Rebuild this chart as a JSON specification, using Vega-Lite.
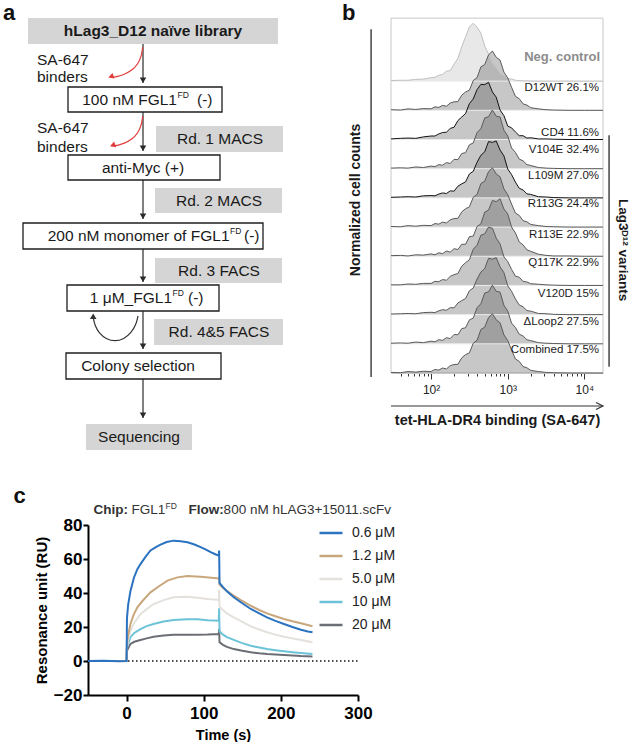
{
  "$schema": "https://vega.github.io/schema/vega-lite/v6.json",
  "padding": 0,
  "background": "white",
  "config": {"view": {"stroke": null}, "font": "Liberation Sans"},
  "spacing": 29,
  "resolve": {"scale": {"stroke": "independent", "fill": "independent", "color": "independent"}, "legend": {"color": "independent", "stroke": "independent", "fill": "independent"}},
  "datasets": {
    "boxes": [
      {"k":"g","x":28,"x2":278,"y":18,"y2":44},
      {"k":"w","x":68,"x2":222,"y":87,"y2":112},
      {"k":"g","x":156,"x2":283,"y":126,"y2":152},
      {"k":"w","x":68,"x2":220,"y":155,"y2":180},
      {"k":"g","x":155,"x2":282,"y":188,"y2":213},
      {"k":"w","x":23,"x2":263,"y":223,"y2":249},
      {"k":"g","x":155,"x2":282,"y":258,"y2":283},
      {"k":"w","x":67,"x2":219,"y":285,"y2":311},
      {"k":"g","x":154,"x2":283,"y":319,"y2":345},
      {"k":"w","x":66,"x2":221,"y":353,"y2":379},
      {"k":"g","x":86,"x2":192,"y":424,"y2":450}
    ],
    "varrows": [
      {"x":143,"y":44,"y2":83},{"x":143,"y":112,"y2":151},{"x":143,"y":180,"y2":219},
      {"x":143,"y":249,"y2":282},{"x":143,"y":311,"y2":349},{"x":143,"y":379,"y2":418}
    ],
    "curves": [
      {"id":"r1","o":0,"x":142.7,"y":47},{"id":"r1","o":1,"x":141.5,"y":56},{"id":"r1","o":2,"x":138,"y":64},{"id":"r1","o":3,"x":132,"y":70.5},{"id":"r1","o":4,"x":124,"y":74.5},{"id":"r1","o":5,"x":117,"y":76.6},{"id":"r1","o":6,"x":113,"y":77.2},
      {"id":"r2","o":0,"x":142.7,"y":116},{"id":"r2","o":1,"x":141.5,"y":125},{"id":"r2","o":2,"x":138,"y":133},{"id":"r2","o":3,"x":132,"y":139.5},{"id":"r2","o":4,"x":124,"y":143.5},{"id":"r2","o":5,"x":118,"y":145.3},{"id":"r2","o":6,"x":115,"y":145.7},
      {"id":"loop","o":0,"x":138,"y":316},{"id":"loop","o":1,"x":136,"y":325},{"id":"loop","o":2,"x":131,"y":333},{"id":"loop","o":3,"x":124,"y":339},{"id":"loop","o":4,"x":115,"y":341.5},{"id":"loop","o":5,"x":106,"y":339},{"id":"loop","o":6,"x":99,"y":333},{"id":"loop","o":7,"x":95,"y":326},{"id":"loop","o":8,"x":93.3,"y":318}
    ],
    "rheads": [{"x":108.3,"y":77.6},{"x":110,"y":146.2}],
    "atc": [
      {"t":"Rd. 1 MACS","x":220,"y":139},
      {"t":"anti-Myc (+)","x":143,"y":167.5},
      {"t":"Rd. 2 MACS","x":219,"y":200.5},
      {"t":"Rd. 3 FACS","x":219,"y":270.5},
      {"t":"Rd. 4&5 FACS","x":219,"y":332},
      {"t":"Colony selection","x":138,"y":366},
      {"t":"Sequencing","x":139,"y":437}
    ],
    "atl": [
      {"t":"SA-647","x":37,"y":60},{"t":"binders","x":37,"y":77},
      {"t":"SA-647","x":37,"y":128},{"t":"binders","x":37,"y":147},
      {"t":"(-)","x":197,"y":99.5},{"t":"(-)","x":244,"y":236},{"t":"(-)","x":188,"y":298}
    ],
    "atr": [
      {"t":"100 nM FGL1","x":177,"y":99.5},
      {"t":"200 nM monomer of FGL1","x":229.5,"y":236},
      {"t":"1 μM_FGL1","x":172,"y":298}
    ],
    "asup": [
      {"t":"FD","x":177.5,"y":94.5},{"t":"FD","x":230,"y":231},{"t":"FD","x":172.5,"y":293}
    ],
    "hist": [
      {"s":"Neg","b":10,"x":30,"y":10.02},{"s":"Neg","b":10,"x":39.8,"y":10.03},{"s":"Neg","b":10,"x":50.1,"y":10.03},{"s":"Neg","b":10,"x":63.1,"y":10.06},{"s":"Neg","b":10,"x":79.4,"y":10.07},{"s":"Neg","b":10,"x":100,"y":10.12},{"s":"Neg","b":10,"x":112.2,"y":10.13},{"s":"Neg","b":10,"x":125.9,"y":10.2},{"s":"Neg","b":10,"x":141.3,"y":10.23},{"s":"Neg","b":10,"x":158.5,"y":10.34},{"s":"Neg","b":10,"x":177.8,"y":10.36},{"s":"Neg","b":10,"x":199.5,"y":10.58},{"s":"Neg","b":10,"x":223.9,"y":10.78},{"s":"Neg","b":10,"x":251.2,"y":11.18},{"s":"Neg","b":10,"x":281.8,"y":11.52},{"s":"Neg","b":10,"x":316.2,"y":11.86},{"s":"Neg","b":10,"x":354.8,"y":11.98},{"s":"Neg","b":10,"x":398.1,"y":11.85},{"s":"Neg","b":10,"x":446.7,"y":11.64},{"s":"Neg","b":10,"x":501.2,"y":11.2},{"s":"Neg","b":10,"x":562.3,"y":10.92},{"s":"Neg","b":10,"x":631,"y":10.6},{"s":"Neg","b":10,"x":707.9,"y":10.46},{"s":"Neg","b":10,"x":794.3,"y":10.26},{"s":"Neg","b":10,"x":891.3,"y":10.19},{"s":"Neg","b":10,"x":1000,"y":10.09},{"s":"Neg","b":10,"x":1122,"y":10.07},{"s":"Neg","b":10,"x":1259,"y":10.03},{"s":"Neg","b":10,"x":1413,"y":10.02},{"s":"Neg","b":10,"x":1585,"y":10.01},{"s":"Neg","b":10,"x":1778,"y":10.01},{"s":"Neg","b":10,"x":1995,"y":10.005},{"s":"Neg","b":10,"x":2512,"y":10},{"s":"Neg","b":10,"x":3162,"y":10},{"s":"Neg","b":10,"x":3981,"y":10},{"s":"Neg","b":10,"x":6310,"y":10},{"s":"Neg","b":10,"x":10000,"y":10},{"s":"Neg","b":10,"x":17500,"y":10},

      {"s":"D12WT","b":9,"x":30,"y":9.02},{"s":"D12WT","b":9,"x":39.8,"y":9.01},{"s":"D12WT","b":9,"x":50.1,"y":9.05},{"s":"D12WT","b":9,"x":63.1,"y":9.03},{"s":"D12WT","b":9,"x":79.4,"y":9.06},{"s":"D12WT","b":9,"x":100,"y":9.05},{"s":"D12WT","b":9,"x":112.2,"y":9.12},{"s":"D12WT","b":9,"x":125.9,"y":9.1},{"s":"D12WT","b":9,"x":141.3,"y":9.17},{"s":"D12WT","b":9,"x":158.5,"y":9.14},{"s":"D12WT","b":9,"x":177.8,"y":9.25},{"s":"D12WT","b":9,"x":199.5,"y":9.29},{"s":"D12WT","b":9,"x":223.9,"y":9.3},{"s":"D12WT","b":9,"x":251.2,"y":9.52},{"s":"D12WT","b":9,"x":281.8,"y":9.63},{"s":"D12WT","b":9,"x":316.2,"y":9.69},{"s":"D12WT","b":9,"x":354.8,"y":10.02},{"s":"D12WT","b":9,"x":398.1,"y":10.12},{"s":"D12WT","b":9,"x":446.7,"y":10.49},{"s":"D12WT","b":9,"x":501.2,"y":10.57},{"s":"D12WT","b":9,"x":562.3,"y":10.9},{"s":"D12WT","b":9,"x":631,"y":11.03},{"s":"D12WT","b":9,"x":707.9,"y":10.82},{"s":"D12WT","b":9,"x":794.3,"y":10.72},{"s":"D12WT","b":9,"x":891.3,"y":10.31},{"s":"D12WT","b":9,"x":1000,"y":10.11},{"s":"D12WT","b":9,"x":1122,"y":9.79},{"s":"D12WT","b":9,"x":1259,"y":9.48},{"s":"D12WT","b":9,"x":1413,"y":9.4},{"s":"D12WT","b":9,"x":1585,"y":9.22},{"s":"D12WT","b":9,"x":1778,"y":9.18},{"s":"D12WT","b":9,"x":1995,"y":9.09},{"s":"D12WT","b":9,"x":2512,"y":9.05},{"s":"D12WT","b":9,"x":3162,"y":9.02},{"s":"D12WT","b":9,"x":3981,"y":9.01},{"s":"D12WT","b":9,"x":6310,"y":9},{"s":"D12WT","b":9,"x":10000,"y":9},{"s":"D12WT","b":9,"x":17500,"y":9},

      {"s":"CD4","b":8,"x":30,"y":8.02},{"s":"CD4","b":8,"x":39.8,"y":8.04},{"s":"CD4","b":8,"x":50.1,"y":8.05},{"s":"CD4","b":8,"x":63.1,"y":8.04},{"s":"CD4","b":8,"x":79.4,"y":8.09},{"s":"CD4","b":8,"x":100,"y":8.12},{"s":"CD4","b":8,"x":112.2,"y":8.12},{"s":"CD4","b":8,"x":125.9,"y":8.19},{"s":"CD4","b":8,"x":141.3,"y":8.24},{"s":"CD4","b":8,"x":158.5,"y":8.25},{"s":"CD4","b":8,"x":177.8,"y":8.38},{"s":"CD4","b":8,"x":199.5,"y":8.42},{"s":"CD4","b":8,"x":223.9,"y":8.65},{"s":"CD4","b":8,"x":251.2,"y":8.77},{"s":"CD4","b":8,"x":281.8,"y":8.89},{"s":"CD4","b":8,"x":316.2,"y":9.23},{"s":"CD4","b":8,"x":354.8,"y":9.39},{"s":"CD4","b":8,"x":398.1,"y":9.71},{"s":"CD4","b":8,"x":446.7,"y":9.89},{"s":"CD4","b":8,"x":501.2,"y":9.88},{"s":"CD4","b":8,"x":562.3,"y":9.96},{"s":"CD4","b":8,"x":631,"y":9.63},{"s":"CD4","b":8,"x":707.9,"y":9.45},{"s":"CD4","b":8,"x":794.3,"y":9.01},{"s":"CD4","b":8,"x":891.3,"y":8.82},{"s":"CD4","b":8,"x":1000,"y":8.46},{"s":"CD4","b":8,"x":1122,"y":8.4},{"s":"CD4","b":8,"x":1259,"y":8.26},{"s":"CD4","b":8,"x":1413,"y":8.13},{"s":"CD4","b":8,"x":1585,"y":8.13},{"s":"CD4","b":8,"x":1778,"y":8.05},{"s":"CD4","b":8,"x":1995,"y":8.06},{"s":"CD4","b":8,"x":2512,"y":8.02},{"s":"CD4","b":8,"x":3162,"y":8.02},{"s":"CD4","b":8,"x":3981,"y":8.01},{"s":"CD4","b":8,"x":6310,"y":8},{"s":"CD4","b":8,"x":10000,"y":8},{"s":"CD4","b":8,"x":17500,"y":8},

      {"s":"V104E","b":7,"x":30,"y":7.02},{"s":"V104E","b":7,"x":39.8,"y":7.03},{"s":"V104E","b":7,"x":50.1,"y":7.02},{"s":"V104E","b":7,"x":63.1,"y":7.06},{"s":"V104E","b":7,"x":79.4,"y":7.04},{"s":"V104E","b":7,"x":100,"y":7.09},{"s":"V104E","b":7,"x":112.2,"y":7.07},{"s":"V104E","b":7,"x":125.9,"y":7.14},{"s":"V104E","b":7,"x":141.3,"y":7.12},{"s":"V104E","b":7,"x":158.5,"y":7.21},{"s":"V104E","b":7,"x":177.8,"y":7.18},{"s":"V104E","b":7,"x":199.5,"y":7.32},{"s":"V104E","b":7,"x":223.9,"y":7.31},{"s":"V104E","b":7,"x":251.2,"y":7.52},{"s":"V104E","b":7,"x":281.8,"y":7.55},{"s":"V104E","b":7,"x":316.2,"y":7.82},{"s":"V104E","b":7,"x":354.8,"y":7.88},{"s":"V104E","b":7,"x":398.1,"y":8.24},{"s":"V104E","b":7,"x":446.7,"y":8.37},{"s":"V104E","b":7,"x":501.2,"y":8.74},{"s":"V104E","b":7,"x":562.3,"y":8.78},{"s":"V104E","b":7,"x":631,"y":9.01},{"s":"V104E","b":7,"x":707.9,"y":8.8},{"s":"V104E","b":7,"x":794.3,"y":8.77},{"s":"V104E","b":7,"x":891.3,"y":8.32},{"s":"V104E","b":7,"x":1000,"y":8.12},{"s":"V104E","b":7,"x":1122,"y":7.71},{"s":"V104E","b":7,"x":1259,"y":7.56},{"s":"V104E","b":7,"x":1413,"y":7.33},{"s":"V104E","b":7,"x":1585,"y":7.27},{"s":"V104E","b":7,"x":1778,"y":7.14},{"s":"V104E","b":7,"x":1995,"y":7.11},{"s":"V104E","b":7,"x":2512,"y":7.04},{"s":"V104E","b":7,"x":3162,"y":7.02},{"s":"V104E","b":7,"x":3981,"y":7.01},{"s":"V104E","b":7,"x":6310,"y":7},{"s":"V104E","b":7,"x":10000,"y":7},{"s":"V104E","b":7,"x":17500,"y":7},

      {"s":"L109M","b":6,"x":30,"y":6.02},{"s":"L109M","b":6,"x":39.8,"y":6.03},{"s":"L109M","b":6,"x":50.1,"y":6.04},{"s":"L109M","b":6,"x":63.1,"y":6.03},{"s":"L109M","b":6,"x":79.4,"y":6.07},{"s":"L109M","b":6,"x":100,"y":6.08},{"s":"L109M","b":6,"x":112.2,"y":6.07},{"s":"L109M","b":6,"x":125.9,"y":6.13},{"s":"L109M","b":6,"x":141.3,"y":6.17},{"s":"L109M","b":6,"x":158.5,"y":6.15},{"s":"L109M","b":6,"x":177.8,"y":6.24},{"s":"L109M","b":6,"x":199.5,"y":6.23},{"s":"L109M","b":6,"x":223.9,"y":6.4},{"s":"L109M","b":6,"x":251.2,"y":6.48},{"s":"L109M","b":6,"x":281.8,"y":6.55},{"s":"L109M","b":6,"x":316.2,"y":6.82},{"s":"L109M","b":6,"x":354.8,"y":6.91},{"s":"L109M","b":6,"x":398.1,"y":7.22},{"s":"L109M","b":6,"x":446.7,"y":7.46},{"s":"L109M","b":6,"x":501.2,"y":7.58},{"s":"L109M","b":6,"x":562.3,"y":7.93},{"s":"L109M","b":6,"x":631,"y":7.9},{"s":"L109M","b":6,"x":707.9,"y":7.95},{"s":"L109M","b":6,"x":794.3,"y":7.64},{"s":"L109M","b":6,"x":891.3,"y":7.44},{"s":"L109M","b":6,"x":1000,"y":6.99},{"s":"L109M","b":6,"x":1122,"y":6.8},{"s":"L109M","b":6,"x":1259,"y":6.54},{"s":"L109M","b":6,"x":1413,"y":6.33},{"s":"L109M","b":6,"x":1585,"y":6.27},{"s":"L109M","b":6,"x":1778,"y":6.14},{"s":"L109M","b":6,"x":1995,"y":6.12},{"s":"L109M","b":6,"x":2512,"y":6.04},{"s":"L109M","b":6,"x":3162,"y":6.03},{"s":"L109M","b":6,"x":3981,"y":6.01},{"s":"L109M","b":6,"x":6310,"y":6},{"s":"L109M","b":6,"x":10000,"y":6},{"s":"L109M","b":6,"x":17500,"y":6},

      {"s":"R113G","b":5,"x":30,"y":5.02},{"s":"R113G","b":5,"x":39.8,"y":5.01},{"s":"R113G","b":5,"x":50.1,"y":5.05},{"s":"R113G","b":5,"x":63.1,"y":5.03},{"s":"R113G","b":5,"x":79.4,"y":5.06},{"s":"R113G","b":5,"x":100,"y":5.05},{"s":"R113G","b":5,"x":112.2,"y":5.12},{"s":"R113G","b":5,"x":125.9,"y":5.1},{"s":"R113G","b":5,"x":141.3,"y":5.17},{"s":"R113G","b":5,"x":158.5,"y":5.14},{"s":"R113G","b":5,"x":177.8,"y":5.25},{"s":"R113G","b":5,"x":199.5,"y":5.29},{"s":"R113G","b":5,"x":223.9,"y":5.3},{"s":"R113G","b":5,"x":251.2,"y":5.52},{"s":"R113G","b":5,"x":281.8,"y":5.63},{"s":"R113G","b":5,"x":316.2,"y":5.69},{"s":"R113G","b":5,"x":354.8,"y":6.02},{"s":"R113G","b":5,"x":398.1,"y":6.12},{"s":"R113G","b":5,"x":446.7,"y":6.49},{"s":"R113G","b":5,"x":501.2,"y":6.57},{"s":"R113G","b":5,"x":562.3,"y":6.9},{"s":"R113G","b":5,"x":631,"y":7.03},{"s":"R113G","b":5,"x":707.9,"y":6.82},{"s":"R113G","b":5,"x":794.3,"y":6.72},{"s":"R113G","b":5,"x":891.3,"y":6.31},{"s":"R113G","b":5,"x":1000,"y":6.11},{"s":"R113G","b":5,"x":1122,"y":5.79},{"s":"R113G","b":5,"x":1259,"y":5.48},{"s":"R113G","b":5,"x":1413,"y":5.4},{"s":"R113G","b":5,"x":1585,"y":5.22},{"s":"R113G","b":5,"x":1778,"y":5.18},{"s":"R113G","b":5,"x":1995,"y":5.09},{"s":"R113G","b":5,"x":2512,"y":5.05},{"s":"R113G","b":5,"x":3162,"y":5.02},{"s":"R113G","b":5,"x":3981,"y":5.01},{"s":"R113G","b":5,"x":6310,"y":5},{"s":"R113G","b":5,"x":10000,"y":5},{"s":"R113G","b":5,"x":17500,"y":5},

      {"s":"R113E","b":4,"x":30,"y":4.02},{"s":"R113E","b":4,"x":39.8,"y":4.03},{"s":"R113E","b":4,"x":50.1,"y":4.01},{"s":"R113E","b":4,"x":63.1,"y":4.05},{"s":"R113E","b":4,"x":79.4,"y":4.04},{"s":"R113E","b":4,"x":100,"y":4.08},{"s":"R113E","b":4,"x":112.2,"y":4.05},{"s":"R113E","b":4,"x":125.9,"y":4.12},{"s":"R113E","b":4,"x":141.3,"y":4.09},{"s":"R113E","b":4,"x":158.5,"y":4.18},{"s":"R113E","b":4,"x":177.8,"y":4.14},{"s":"R113E","b":4,"x":199.5,"y":4.26},{"s":"R113E","b":4,"x":223.9,"y":4.23},{"s":"R113E","b":4,"x":251.2,"y":4.41},{"s":"R113E","b":4,"x":281.8,"y":4.41},{"s":"R113E","b":4,"x":316.2,"y":4.67},{"s":"R113E","b":4,"x":354.8,"y":4.69},{"s":"R113E","b":4,"x":398.1,"y":5.02},{"s":"R113E","b":4,"x":446.7,"y":5.11},{"s":"R113E","b":4,"x":501.2,"y":5.51},{"s":"R113E","b":4,"x":562.3,"y":5.58},{"s":"R113E","b":4,"x":631,"y":5.91},{"s":"R113E","b":4,"x":707.9,"y":5.87},{"s":"R113E","b":4,"x":794.3,"y":5.97},{"s":"R113E","b":4,"x":891.3,"y":5.62},{"s":"R113E","b":4,"x":1000,"y":5.45},{"s":"R113E","b":4,"x":1122,"y":5},{"s":"R113E","b":4,"x":1259,"y":4.8},{"s":"R113E","b":4,"x":1413,"y":4.49},{"s":"R113E","b":4,"x":1585,"y":4.39},{"s":"R113E","b":4,"x":1778,"y":4.22},{"s":"R113E","b":4,"x":1995,"y":4.17},{"s":"R113E","b":4,"x":2512,"y":4.07},{"s":"R113E","b":4,"x":3162,"y":4.03},{"s":"R113E","b":4,"x":3981,"y":4.01},{"s":"R113E","b":4,"x":6310,"y":4.01},{"s":"R113E","b":4,"x":10000,"y":4},{"s":"R113E","b":4,"x":17500,"y":4},

      {"s":"Q117K","b":3,"x":30,"y":3.02},{"s":"Q117K","b":3,"x":39.8,"y":3.02},{"s":"Q117K","b":3,"x":50.1,"y":3.05},{"s":"Q117K","b":3,"x":63.1,"y":3.04},{"s":"Q117K","b":3,"x":79.4,"y":3.07},{"s":"Q117K","b":3,"x":100,"y":3.07},{"s":"Q117K","b":3,"x":112.2,"y":3.14},{"s":"Q117K","b":3,"x":125.9,"y":3.13},{"s":"Q117K","b":3,"x":141.3,"y":3.2},{"s":"Q117K","b":3,"x":158.5,"y":3.18},{"s":"Q117K","b":3,"x":177.8,"y":3.31},{"s":"Q117K","b":3,"x":199.5,"y":3.37},{"s":"Q117K","b":3,"x":223.9,"y":3.41},{"s":"Q117K","b":3,"x":251.2,"y":3.66},{"s":"Q117K","b":3,"x":281.8,"y":3.78},{"s":"Q117K","b":3,"x":316.2,"y":3.88},{"s":"Q117K","b":3,"x":354.8,"y":4.24},{"s":"Q117K","b":3,"x":398.1,"y":4.38},{"s":"Q117K","b":3,"x":446.7,"y":4.72},{"s":"Q117K","b":3,"x":501.2,"y":4.77},{"s":"Q117K","b":3,"x":562.3,"y":5},{"s":"Q117K","b":3,"x":631,"y":4.96},{"s":"Q117K","b":3,"x":707.9,"y":4.62},{"s":"Q117K","b":3,"x":794.3,"y":4.42},{"s":"Q117K","b":3,"x":891.3,"y":3.98},{"s":"Q117K","b":3,"x":1000,"y":3.82},{"s":"Q117K","b":3,"x":1122,"y":3.55},{"s":"Q117K","b":3,"x":1259,"y":3.32},{"s":"Q117K","b":3,"x":1413,"y":3.28},{"s":"Q117K","b":3,"x":1585,"y":3.14},{"s":"Q117K","b":3,"x":1778,"y":3.12},{"s":"Q117K","b":3,"x":1995,"y":3.06},{"s":"Q117K","b":3,"x":2512,"y":3.04},{"s":"Q117K","b":3,"x":3162,"y":3.02},{"s":"Q117K","b":3,"x":3981,"y":3.01},{"s":"Q117K","b":3,"x":6310,"y":3},{"s":"Q117K","b":3,"x":10000,"y":3},{"s":"Q117K","b":3,"x":17500,"y":3},

      {"s":"V120D","b":2,"x":30,"y":2.02},{"s":"V120D","b":2,"x":39.8,"y":2.03},{"s":"V120D","b":2,"x":50.1,"y":2.04},{"s":"V120D","b":2,"x":63.1,"y":2.03},{"s":"V120D","b":2,"x":79.4,"y":2.07},{"s":"V120D","b":2,"x":100,"y":2.08},{"s":"V120D","b":2,"x":112.2,"y":2.07},{"s":"V120D","b":2,"x":125.9,"y":2.13},{"s":"V120D","b":2,"x":141.3,"y":2.17},{"s":"V120D","b":2,"x":158.5,"y":2.15},{"s":"V120D","b":2,"x":177.8,"y":2.24},{"s":"V120D","b":2,"x":199.5,"y":2.23},{"s":"V120D","b":2,"x":223.9,"y":2.4},{"s":"V120D","b":2,"x":251.2,"y":2.48},{"s":"V120D","b":2,"x":281.8,"y":2.55},{"s":"V120D","b":2,"x":316.2,"y":2.82},{"s":"V120D","b":2,"x":354.8,"y":2.91},{"s":"V120D","b":2,"x":398.1,"y":3.22},{"s":"V120D","b":2,"x":446.7,"y":3.46},{"s":"V120D","b":2,"x":501.2,"y":3.58},{"s":"V120D","b":2,"x":562.3,"y":3.93},{"s":"V120D","b":2,"x":631,"y":3.9},{"s":"V120D","b":2,"x":707.9,"y":3.95},{"s":"V120D","b":2,"x":794.3,"y":3.64},{"s":"V120D","b":2,"x":891.3,"y":3.44},{"s":"V120D","b":2,"x":1000,"y":2.99},{"s":"V120D","b":2,"x":1122,"y":2.8},{"s":"V120D","b":2,"x":1259,"y":2.54},{"s":"V120D","b":2,"x":1413,"y":2.33},{"s":"V120D","b":2,"x":1585,"y":2.27},{"s":"V120D","b":2,"x":1778,"y":2.14},{"s":"V120D","b":2,"x":1995,"y":2.12},{"s":"V120D","b":2,"x":2512,"y":2.04},{"s":"V120D","b":2,"x":3162,"y":2.03},{"s":"V120D","b":2,"x":3981,"y":2.01},{"s":"V120D","b":2,"x":6310,"y":2},{"s":"V120D","b":2,"x":10000,"y":2},{"s":"V120D","b":2,"x":17500,"y":2},

      {"s":"ΔLoop2","b":1,"x":30,"y":1.02},{"s":"ΔLoop2","b":1,"x":39.8,"y":1.03},{"s":"ΔLoop2","b":1,"x":50.1,"y":1.02},{"s":"ΔLoop2","b":1,"x":63.1,"y":1.06},{"s":"ΔLoop2","b":1,"x":79.4,"y":1.04},{"s":"ΔLoop2","b":1,"x":100,"y":1.09},{"s":"ΔLoop2","b":1,"x":112.2,"y":1.07},{"s":"ΔLoop2","b":1,"x":125.9,"y":1.14},{"s":"ΔLoop2","b":1,"x":141.3,"y":1.12},{"s":"ΔLoop2","b":1,"x":158.5,"y":1.21},{"s":"ΔLoop2","b":1,"x":177.8,"y":1.18},{"s":"ΔLoop2","b":1,"x":199.5,"y":1.32},{"s":"ΔLoop2","b":1,"x":223.9,"y":1.31},{"s":"ΔLoop2","b":1,"x":251.2,"y":1.52},{"s":"ΔLoop2","b":1,"x":281.8,"y":1.55},{"s":"ΔLoop2","b":1,"x":316.2,"y":1.82},{"s":"ΔLoop2","b":1,"x":354.8,"y":1.88},{"s":"ΔLoop2","b":1,"x":398.1,"y":2.24},{"s":"ΔLoop2","b":1,"x":446.7,"y":2.37},{"s":"ΔLoop2","b":1,"x":501.2,"y":2.74},{"s":"ΔLoop2","b":1,"x":562.3,"y":2.78},{"s":"ΔLoop2","b":1,"x":631,"y":3.01},{"s":"ΔLoop2","b":1,"x":707.9,"y":2.8},{"s":"ΔLoop2","b":1,"x":794.3,"y":2.77},{"s":"ΔLoop2","b":1,"x":891.3,"y":2.32},{"s":"ΔLoop2","b":1,"x":1000,"y":2.12},{"s":"ΔLoop2","b":1,"x":1122,"y":1.71},{"s":"ΔLoop2","b":1,"x":1259,"y":1.56},{"s":"ΔLoop2","b":1,"x":1413,"y":1.33},{"s":"ΔLoop2","b":1,"x":1585,"y":1.27},{"s":"ΔLoop2","b":1,"x":1778,"y":1.14},{"s":"ΔLoop2","b":1,"x":1995,"y":1.11},{"s":"ΔLoop2","b":1,"x":2512,"y":1.04},{"s":"ΔLoop2","b":1,"x":3162,"y":1.02},{"s":"ΔLoop2","b":1,"x":3981,"y":1.01},{"s":"ΔLoop2","b":1,"x":6310,"y":1},{"s":"ΔLoop2","b":1,"x":10000,"y":1},{"s":"ΔLoop2","b":1,"x":17500,"y":1},

      {"s":"Combined","b":0,"x":30,"y":0.02},{"s":"Combined","b":0,"x":39.8,"y":0.01},{"s":"Combined","b":0,"x":50.1,"y":0.05},{"s":"Combined","b":0,"x":63.1,"y":0.03},{"s":"Combined","b":0,"x":79.4,"y":0.06},{"s":"Combined","b":0,"x":100,"y":0.05},{"s":"Combined","b":0,"x":112.2,"y":0.12},{"s":"Combined","b":0,"x":125.9,"y":0.1},{"s":"Combined","b":0,"x":141.3,"y":0.17},{"s":"Combined","b":0,"x":158.5,"y":0.14},{"s":"Combined","b":0,"x":177.8,"y":0.25},{"s":"Combined","b":0,"x":199.5,"y":0.29},{"s":"Combined","b":0,"x":223.9,"y":0.3},{"s":"Combined","b":0,"x":251.2,"y":0.52},{"s":"Combined","b":0,"x":281.8,"y":0.63},{"s":"Combined","b":0,"x":316.2,"y":0.69},{"s":"Combined","b":0,"x":354.8,"y":1.02},{"s":"Combined","b":0,"x":398.1,"y":1.12},{"s":"Combined","b":0,"x":446.7,"y":1.49},{"s":"Combined","b":0,"x":501.2,"y":1.57},{"s":"Combined","b":0,"x":562.3,"y":1.9},{"s":"Combined","b":0,"x":631,"y":2.03},{"s":"Combined","b":0,"x":707.9,"y":1.82},{"s":"Combined","b":0,"x":794.3,"y":1.72},{"s":"Combined","b":0,"x":891.3,"y":1.31},{"s":"Combined","b":0,"x":1000,"y":1.11},{"s":"Combined","b":0,"x":1122,"y":0.79},{"s":"Combined","b":0,"x":1259,"y":0.48},{"s":"Combined","b":0,"x":1413,"y":0.4},{"s":"Combined","b":0,"x":1585,"y":0.22},{"s":"Combined","b":0,"x":1778,"y":0.18},{"s":"Combined","b":0,"x":1995,"y":0.09},{"s":"Combined","b":0,"x":2512,"y":0.05},{"s":"Combined","b":0,"x":3162,"y":0.02},{"s":"Combined","b":0,"x":3981,"y":0.01},{"s":"Combined","b":0,"x":6310,"y":0},{"s":"Combined","b":0,"x":10000,"y":0},{"s":"Combined","b":0,"x":17500,"y":0}
    ],
    "bases": [
      {"x":30,"x2":17500,"y":10},{"x":30,"x2":17500,"y":9},{"x":30,"x2":17500,"y":8},{"x":30,"x2":17500,"y":7},{"x":30,"x2":17500,"y":6},
      {"x":30,"x2":17500,"y":5},{"x":30,"x2":17500,"y":4},{"x":30,"x2":17500,"y":3},{"x":30,"x2":17500,"y":2},{"x":30,"x2":17500,"y":1}
    ],
    "blab": [
      {"t":"D12WT 26.1%","x":15560,"y":9.77},
      {"t":"CD4 11.6%","x":15560,"y":8.21},
      {"t":"V104E 32.4%","x":15560,"y":7.64},
      {"t":"L109M 27.0%","x":15560,"y":6.75},
      {"t":"R113G 24.4%","x":15560,"y":5.79},
      {"t":"R113E 22.9%","x":15560,"y":4.73},
      {"t":"Q117K 22.9%","x":15560,"y":3.76},
      {"t":"V120D 15%","x":15560,"y":2.71},
      {"t":"ΔLoop2 27.5%","x":15560,"y":1.76},
      {"t":"Combined 17.5%","x":15560,"y":0.79}
    ],
    "spr": [
      {"c":"20 μM","t":-50,"v":0},{"c":"20 μM","t":0,"v":0},{"c":"20 μM","t":0.5,"v":6},{"c":"20 μM","t":2,"v":7.5},{"c":"20 μM","t":5,"v":10},{"c":"20 μM","t":10,"v":11.3},{"c":"20 μM","t":18,"v":12.4},{"c":"20 μM","t":26,"v":13.3},{"c":"20 μM","t":35,"v":14.3},{"c":"20 μM","t":48,"v":15},{"c":"20 μM","t":61,"v":15.5},{"c":"20 μM","t":79,"v":15.5},{"c":"20 μM","t":92,"v":15.5},{"c":"20 μM","t":105,"v":15.6},{"c":"20 μM","t":119.5,"v":15.9},{"c":"20 μM","t":120,"v":19},{"c":"20 μM","t":120.5,"v":11},{"c":"20 μM","t":125,"v":9.5},{"c":"20 μM","t":130,"v":8.3},{"c":"20 μM","t":139,"v":7},{"c":"20 μM","t":150,"v":6},{"c":"20 μM","t":161,"v":5.1},{"c":"20 μM","t":172,"v":4.5},{"c":"20 μM","t":182,"v":4.1},{"c":"20 μM","t":193,"v":3.8},{"c":"20 μM","t":204,"v":3.5},{"c":"20 μM","t":215,"v":3.2},{"c":"20 μM","t":226,"v":2.9},{"c":"20 μM","t":241,"v":2.7},
      {"c":"10 μM","t":-50,"v":0},{"c":"10 μM","t":0,"v":0},{"c":"10 μM","t":0.5,"v":8},{"c":"10 μM","t":2,"v":10},{"c":"10 μM","t":5,"v":14},{"c":"10 μM","t":10,"v":16.5},{"c":"10 μM","t":18,"v":18.8},{"c":"10 μM","t":26,"v":20.5},{"c":"10 μM","t":35,"v":21.8},{"c":"10 μM","t":48,"v":23.2},{"c":"10 μM","t":61,"v":24.1},{"c":"10 μM","t":79,"v":24.6},{"c":"10 μM","t":92,"v":24.5},{"c":"10 μM","t":105,"v":24},{"c":"10 μM","t":119.5,"v":23.7},{"c":"10 μM","t":120,"v":31},{"c":"10 μM","t":120.5,"v":17.5},{"c":"10 μM","t":125,"v":15.5},{"c":"10 μM","t":130,"v":14},{"c":"10 μM","t":139,"v":12.4},{"c":"10 μM","t":150,"v":10.5},{"c":"10 μM","t":161,"v":9},{"c":"10 μM","t":172,"v":7.9},{"c":"10 μM","t":182,"v":7},{"c":"10 μM","t":193,"v":6.3},{"c":"10 μM","t":204,"v":5.7},{"c":"10 μM","t":215,"v":5.2},{"c":"10 μM","t":226,"v":4.7},{"c":"10 μM","t":241,"v":4.1},
      {"c":"5.0 μM","t":-50,"v":0},{"c":"5.0 μM","t":0,"v":0},{"c":"5.0 μM","t":0.5,"v":8},{"c":"5.0 μM","t":2,"v":12},{"c":"5.0 μM","t":5,"v":17.8},{"c":"5.0 μM","t":10,"v":22.5},{"c":"5.0 μM","t":18,"v":27.6},{"c":"5.0 μM","t":26,"v":30.5},{"c":"5.0 μM","t":35,"v":33.5},{"c":"5.0 μM","t":48,"v":35.8},{"c":"5.0 μM","t":61,"v":37.5},{"c":"5.0 μM","t":79,"v":37.8},{"c":"5.0 μM","t":92,"v":37.2},{"c":"5.0 μM","t":105,"v":36.5},{"c":"5.0 μM","t":119.5,"v":35.9},{"c":"5.0 μM","t":120,"v":42},{"c":"5.0 μM","t":120.5,"v":32},{"c":"5.0 μM","t":125,"v":30},{"c":"5.0 μM","t":130,"v":28},{"c":"5.0 μM","t":139,"v":25.7},{"c":"5.0 μM","t":150,"v":23},{"c":"5.0 μM","t":161,"v":20.4},{"c":"5.0 μM","t":172,"v":18.5},{"c":"5.0 μM","t":182,"v":16.9},{"c":"5.0 μM","t":193,"v":15.5},{"c":"5.0 μM","t":204,"v":14.3},{"c":"5.0 μM","t":215,"v":13.3},{"c":"5.0 μM","t":226,"v":12.4},{"c":"5.0 μM","t":241,"v":11},
      {"c":"1.2 μM","t":-50,"v":0},{"c":"1.2 μM","t":0,"v":0},{"c":"1.2 μM","t":0.5,"v":10},{"c":"1.2 μM","t":2,"v":15},{"c":"1.2 μM","t":5,"v":21.8},{"c":"1.2 μM","t":9,"v":27},{"c":"1.2 μM","t":14,"v":31.6},{"c":"1.2 μM","t":20,"v":35},{"c":"1.2 μM","t":31,"v":40.4},{"c":"1.2 μM","t":42,"v":44},{"c":"1.2 μM","t":53,"v":47.3},{"c":"1.2 μM","t":66,"v":49.2},{"c":"1.2 μM","t":79,"v":50},{"c":"1.2 μM","t":96,"v":49.6},{"c":"1.2 μM","t":110,"v":49},{"c":"1.2 μM","t":119.5,"v":48.6},{"c":"1.2 μM","t":120,"v":49},{"c":"1.2 μM","t":120.5,"v":45},{"c":"1.2 μM","t":125,"v":43},{"c":"1.2 μM","t":130,"v":41.3},{"c":"1.2 μM","t":139,"v":38.4},{"c":"1.2 μM","t":150,"v":35.3},{"c":"1.2 μM","t":161,"v":32.5},{"c":"1.2 μM","t":172,"v":30},{"c":"1.2 μM","t":182,"v":28},{"c":"1.2 μM","t":193,"v":26.3},{"c":"1.2 μM","t":204,"v":24.7},{"c":"1.2 μM","t":215,"v":23.4},{"c":"1.2 μM","t":226,"v":22.2},{"c":"1.2 μM","t":241,"v":20.4},
      {"c":"0.6 μM","t":-50,"v":0},{"c":"0.6 μM","t":-30,"v":0.2},{"c":"0.6 μM","t":-10,"v":-0.2},{"c":"0.6 μM","t":0,"v":0},{"c":"0.6 μM","t":0.5,"v":25},{"c":"0.6 μM","t":2,"v":33},{"c":"0.6 μM","t":5,"v":41},{"c":"0.6 μM","t":9.5,"v":49},{"c":"0.6 μM","t":14,"v":54},{"c":"0.6 μM","t":18,"v":57},{"c":"0.6 μM","t":25,"v":61.5},{"c":"0.6 μM","t":31,"v":65},{"c":"0.6 μM","t":38,"v":67},{"c":"0.6 μM","t":44,"v":68.5},{"c":"0.6 μM","t":52,"v":70},{"c":"0.6 μM","t":61,"v":70.8},{"c":"0.6 μM","t":70,"v":70.5},{"c":"0.6 μM","t":79,"v":69.8},{"c":"0.6 μM","t":88,"v":68.5},{"c":"0.6 μM","t":96,"v":67},{"c":"0.6 μM","t":103,"v":65.5},{"c":"0.6 μM","t":109,"v":64},{"c":"0.6 μM","t":115,"v":62.8},{"c":"0.6 μM","t":119.5,"v":62},{"c":"0.6 μM","t":120,"v":65},{"c":"0.6 μM","t":120.5,"v":46},{"c":"0.6 μM","t":125,"v":43.5},{"c":"0.6 μM","t":130,"v":41},{"c":"0.6 μM","t":139,"v":37.5},{"c":"0.6 μM","t":150,"v":34},{"c":"0.6 μM","t":161,"v":30.6},{"c":"0.6 μM","t":172,"v":28},{"c":"0.6 μM","t":182,"v":25.7},{"c":"0.6 μM","t":193,"v":23.6},{"c":"0.6 μM","t":204,"v":21.8},{"c":"0.6 μM","t":215,"v":20},{"c":"0.6 μM","t":226,"v":18.4},{"c":"0.6 μM","t":235,"v":17.4},{"c":"0.6 μM","t":241,"v":16.9}
    ]
  },
  "vconcat": [
    {
      "spacing": 22,
      "resolve": {"scale": {"stroke": "independent", "fill": "independent", "color": "independent"}, "legend": {"color": "independent", "stroke": "independent", "fill": "independent"}},
      "hconcat": [
        {
          "width": 320,
          "height": 455,
          "encoding": {
            "x": {"field": "x", "type": "quantitative", "scale": {"domain": [0, 320], "nice": false, "zero": false}, "axis": null},
            "y": {"field": "y", "type": "quantitative", "scale": {"domain": [0, 455], "nice": false, "zero": false, "reverse": true}, "axis": null}
          },
          "layer": [
            {"data": {"name": "boxes"}, "transform": [{"filter": "datum.k == 'g'"}], "mark": {"type": "rect", "fill": "#d5d5d5"}, "encoding": {"x2": {"field": "x2"}, "y2": {"field": "y2"}}},
            {"data": {"name": "boxes"}, "transform": [{"filter": "datum.k == 'w'"}], "mark": {"type": "rect", "fill": "white", "stroke": "#1e1e1e", "strokeWidth": 1.3}, "encoding": {"x2": {"field": "x2"}, "y2": {"field": "y2"}}},
            {"data": {"name": "varrows"}, "mark": {"type": "rule", "color": "#2a2a2a", "strokeWidth": 1.2}, "encoding": {"y2": {"field": "y2"}}},
            {"data": {"name": "varrows"}, "mark": {"type": "point", "shape": "M-1.1,-1.8L1.1,-1.8L0,0Z", "filled": true, "color": "#2a2a2a", "size": 36, "opacity": 1}, "encoding": {"y": {"field": "y2", "type": "quantitative"}}},
            {"data": {"name": "curves"}, "mark": {"type": "line", "interpolate": "basis", "strokeWidth": 1.2}, "encoding": {"order": {"field": "o"}, "stroke": {"field": "id", "type": "nominal", "scale": {"domain": ["r1", "r2", "loop"], "range": ["#e23b3b", "#e23b3b", "#333333"]}, "legend": null}}},
            {"data": {"name": "rheads"}, "mark": {"type": "point", "shape": "M0,0L2,-1.1L2,1.1Z", "filled": true, "color": "#e23b3b", "size": 30, "angle": -20, "opacity": 1}},
            {"data": {"values": [{"x": 93.2, "y": 313.5}]}, "mark": {"type": "point", "shape": "M0,0L-1.1,1.8L1.1,1.8Z", "filled": true, "color": "#333333", "size": 36, "opacity": 1}},
            {"data": {"values": [{"t": "hLag3_D12 naïve library", "x": 153, "y": 31}]}, "mark": {"type": "text", "fontSize": 15.5, "fontWeight": "bold", "align": "center", "baseline": "middle", "color": "#1a1a1a"}, "encoding": {"text": {"field": "t"}}},
            {"data": {"name": "atc"}, "mark": {"type": "text", "fontSize": 15.5, "align": "center", "baseline": "middle", "color": "#1a1a1a"}, "encoding": {"text": {"field": "t"}}},
            {"data": {"name": "atl"}, "mark": {"type": "text", "fontSize": 15.5, "align": "left", "baseline": "middle", "color": "#1a1a1a"}, "encoding": {"text": {"field": "t"}}},
            {"data": {"name": "atr"}, "mark": {"type": "text", "fontSize": 15.5, "align": "right", "baseline": "middle", "color": "#1a1a1a"}, "encoding": {"text": {"field": "t"}}},
            {"data": {"name": "asup"}, "mark": {"type": "text", "fontSize": 8.5, "align": "left", "baseline": "middle", "color": "#1a1a1a"}, "encoding": {"text": {"field": "t"}}},
            {"data": {"values": [{"t": "a", "x": 3, "y": 20}]}, "mark": {"type": "text", "fontSize": 22, "fontWeight": "bold", "align": "left", "baseline": "alphabetic", "color": "#111"}, "encoding": {"text": {"field": "t"}}}
          ]
        },
        {
          "width": 212,
          "height": 373,
          "encoding": {
            "x": {"field": "x", "type": "quantitative", "scale": {"type": "log", "domain": [30, 17500], "nice": false},
              "axis": {"title": "tet-HLA-DR4 binding (SA-647)", "titleFontSize": 14.5, "titleFontWeight": "bold", "titleColor": "#1a1a1a", "titlePadding": 18,
                "values": [40,50,60,70,80,90,100,200,300,400,500,600,700,800,900,1000,2000,3000,4000,5000,6000,7000,8000,9000,10000],
                "labelExpr": "datum.value == 100 ? '10²' : datum.value == 1000 ? '10³' : datum.value == 10000 ? '10⁴' : ''",
                "labelFontSize": 12, "labelColor": "#222", "labelPadding": 5, "labelOverlap": false, "labelFlush": false, "labelBound": false,
                "tickSize": {"condition": {"test": "datum.value == 100 || datum.value == 1000 || datum.value == 10000", "value": 6}, "value": 3},
                "tickColor": "#333", "domainColor": "#c8c8c8", "grid": false}},
            "y": {"field": "y", "type": "quantitative", "scale": {"domain": [0, 12.78], "nice": false, "zero": false}, "axis": null, "stack": null}
          },
          "layer": [
            {"data": {"values": [{"x": 30, "x2": 17500, "y": 0, "y2": 12.16}]}, "mark": {"type": "rect", "fill": null, "stroke": "#c8c8c8", "strokeWidth": 1}, "encoding": {"x2": {"field": "x2"}, "y2": {"field": "y2"}}},
            {"data": {"name": "hist"}, "mark": {"type": "area", "opacity": 1}, "encoding": {"y2": {"field": "b"}, "fill": {"field": "s", "type": "nominal", "legend": null,
              "scale": {"domain": ["Neg","D12WT","CD4","V104E","L109M","R113G","R113E","Q117K","V120D","ΔLoop2","Combined"],
                "range": ["rgba(150,150,150,0.22)","rgba(70,70,70,0.3)","rgba(70,70,70,0.3)","rgba(70,70,70,0.3)","rgba(70,70,70,0.3)","rgba(70,70,70,0.3)","rgba(70,70,70,0.3)","rgba(70,70,70,0.3)","rgba(70,70,70,0.3)","rgba(70,70,70,0.3)","rgba(70,70,70,0.3)"]}}}},
            {"data": {"name": "bases"}, "mark": {"type": "rule", "color": "#ececec", "strokeWidth": 1}, "encoding": {"x2": {"field": "x2"}}},
            {"data": {"name": "hist"}, "mark": {"type": "line", "strokeWidth": 1}, "encoding": {"stroke": {"field": "s", "type": "nominal", "legend": null,
              "scale": {"domain": ["Neg","D12WT","CD4","V104E","L109M","R113G","R113E","Q117K","V120D","ΔLoop2","Combined"],
                "range": ["#c0c0c0","#5a5a5a","#141414","#5a5a5a","#141414","#5a5a5a","#5a5a5a","#5a5a5a","#5a5a5a","#5a5a5a","#5a5a5a"]}}}},
            {"data": {"name": "blab"}, "mark": {"type": "text", "align": "right", "baseline": "middle", "fontSize": 11.5, "color": "#1a1a1a"}, "encoding": {"text": {"field": "t"}}},
            {"data": {"values": [{"t": "Neg. control", "x": 16000, "y": 10.84}]}, "mark": {"type": "text", "align": "right", "baseline": "middle", "fontSize": 13, "fontWeight": "bold", "color": "#8c8c8c"}, "encoding": {"text": {"field": "t"}}},
            {"data": {"values": [{"x": 16.5, "y": -0.14, "y2": 11.78}, {"x": 21000, "y": 0.21, "y2": 8.15}]}, "mark": {"type": "rule", "color": "#444", "strokeWidth": 1.5}, "encoding": {"y2": {"field": "y2"}}},
            {"data": {"values": [{"t": "Normalized cell counts", "x": 10.5, "y": 5.93}]}, "mark": {"type": "text", "angle": 270, "align": "center", "baseline": "middle", "fontSize": 14, "fontWeight": "bold", "color": "#1a1a1a"}, "encoding": {"text": {"field": "t"}}},
            {"data": {"values": [{"t": "Lag3ᴰ¹² variants", "x": 32000, "y": 4.21}]}, "mark": {"type": "text", "angle": 90, "align": "center", "baseline": "middle", "fontSize": 13.5, "fontWeight": "bold", "color": "#1a1a1a"}, "encoding": {"text": {"field": "t"}}},
            {"data": {"values": [{"t": "b", "x": 6.9, "y": 12.09}]}, "mark": {"type": "text", "align": "left", "baseline": "alphabetic", "fontSize": 22, "fontWeight": "bold", "color": "#111"}, "encoding": {"text": {"field": "t"}}},
            {"data": {"values": [{"x": 30, "x2": 17300, "y": -1.13}]}, "mark": {"type": "rule", "color": "#333", "strokeWidth": 1.2}, "encoding": {"x2": {"field": "x2"}}},
            {"data": {"values": [{"x": 17500, "y": -1.13}]}, "mark": {"type": "point", "shape": "M-2,-1L0,0L-2,1", "filled": false, "stroke": "#333", "strokeWidth": 1.2, "size": 49, "opacity": 1}}
          ]
        }
      ]
    },
    {
      "spacing": 12,
      "resolve": {"scale": {"stroke": "independent", "fill": "independent", "color": "independent"}, "legend": {"color": "independent", "stroke": "independent", "fill": "independent"}},
      "hconcat": [
        {"width": 1, "height": 1, "data": {"values": []}, "mark": "point"},
        {
          "width": 270,
          "height": 170,
          "encoding": {
            "x": {"field": "t", "type": "quantitative", "scale": {"domain": [-50, 300], "nice": false, "zero": false},
              "axis": {"title": "Time (s)", "values": [0, 100, 200, 300], "domainWidth": 2, "domainColor": "#000", "tickWidth": 2, "tickColor": "#000", "tickSize": 6,
                "labelFontSize": 17, "labelFontWeight": "bold", "labelColor": "#000", "labelPadding": 4, "labelFlush": false,
                "titleFontSize": 14.5, "titleFontWeight": "bold", "titleColor": "#000", "titlePadding": 7, "grid": false}},
            "y": {"field": "v", "type": "quantitative", "scale": {"domain": [-20, 80], "nice": false, "zero": false},
              "axis": {"title": "Resonance unit (RU)", "values": [-20, 0, 20, 40, 60, 80], "domainWidth": 2, "domainColor": "#000", "tickWidth": 2, "tickColor": "#000", "tickSize": 5,
                "labelFontSize": 17, "labelFontWeight": "bold", "labelColor": "#000", "labelPadding": 1,
                "titleFontSize": 15, "titleFontWeight": "bold", "titleColor": "#000", "titlePadding": 4, "grid": false}}
          },
          "layer": [
            {"data": {"values": [{"t": -50, "t2": 300, "v": 0}]}, "mark": {"type": "rule", "color": "#111", "strokeWidth": 1.3, "strokeDash": [1.5, 2.5]}, "encoding": {"x2": {"field": "t2"}}},
            {"data": {"name": "spr"}, "mark": {"type": "line", "strokeWidth": 2}, "encoding": {"color": {"field": "c", "type": "nominal",
              "scale": {"domain": ["0.6 μM", "1.2 μM", "5.0 μM", "10 μM", "20 μM"], "range": ["#2b73c0", "#c9a77c", "#e4e1dd", "#6cc3d8", "#6b6e75"]},
              "legend": {"orient": "none", "legendX": 230, "legendY": -5, "title": null, "symbolType": "stroke", "symbolSize": 529, "symbolStrokeWidth": 2.5,
                "labelFontSize": 14, "labelFont": "Liberation Sans", "labelColor": "#222", "labelOffset": 8, "rowPadding": 3, "padding": 0, "labelLimit": 120}}}},
            {"data": {"values": [{"s": "Chip:", "t": -42.8, "v": 86.6}, {"s": "Flow:", "t": 80.4, "v": 86.6}]}, "mark": {"type": "text", "align": "left", "baseline": "alphabetic", "fontSize": 13.5, "fontWeight": "bold", "color": "#333"}, "encoding": {"text": {"field": "s"}}},
            {"data": {"values": [{"s": "FGL1", "t": 6.5, "v": 86.6}, {"s": "800 nM hLAG3+15011.scFv", "t": 125.8, "v": 86.6}]}, "mark": {"type": "text", "align": "left", "baseline": "alphabetic", "fontSize": 13.5, "color": "#333"}, "encoding": {"text": {"field": "s"}}},
            {"data": {"values": [{"s": "FD", "t": 50.5, "v": 89.6}]}, "mark": {"type": "text", "align": "left", "baseline": "alphabetic", "fontSize": 8.5, "color": "#333"}, "encoding": {"text": {"field": "s"}}},
            {"data": {"values": [{"s": "c", "t": -146.6, "v": 93.1}]}, "mark": {"type": "text", "align": "left", "baseline": "alphabetic", "fontSize": 22, "fontWeight": "bold", "color": "#111"}, "encoding": {"text": {"field": "s"}}}
          ]
        }
      ]
    }
  ]
}
